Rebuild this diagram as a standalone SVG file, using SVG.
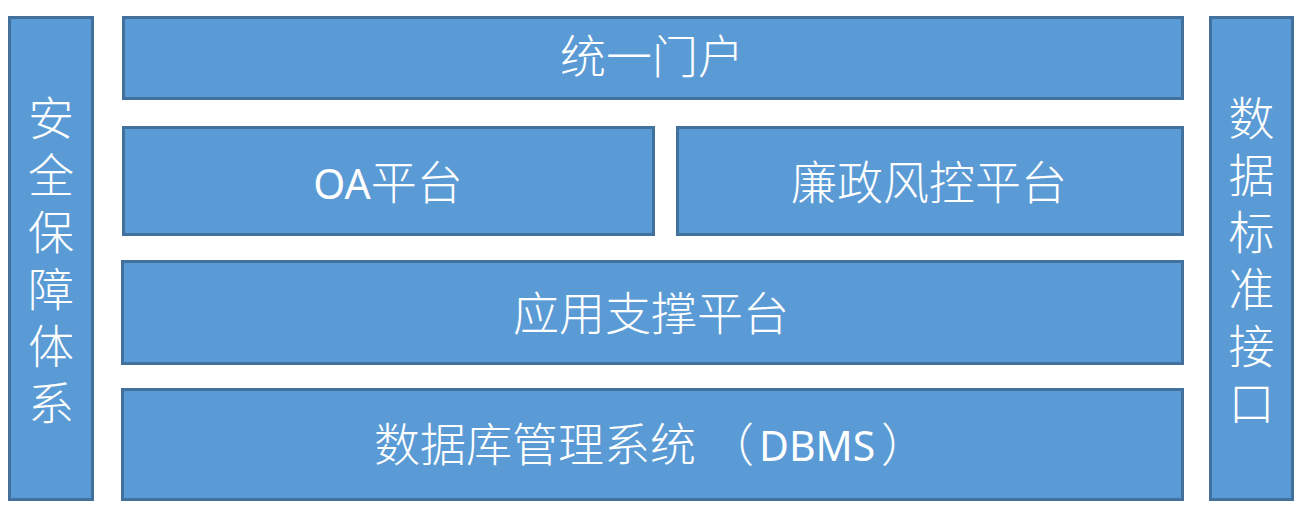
<svg xmlns="http://www.w3.org/2000/svg" width="1308" height="515" viewBox="0 0 1308 515">
<style>
.box{fill:#5B9BD5;stroke:#41719C;stroke-width:3}
.t{fill:#FFFFFF;font-family:"Noto Sans CJK SC","Noto Sans",sans-serif;font-size:46px;font-weight:300;text-anchor:middle}
.lat{font-family:"Noto Sans","Noto Sans CJK SC",sans-serif;font-size:41px;font-weight:400}
</style>
<rect width="1308" height="515" fill="#FFFFFF"/>
<g id="security">
<rect class="box" x="9.5" y="17.5" width="83" height="482"/>
<text class="t" x="51" y="135"><tspan x="51" y="135">安</tspan><tspan x="51" y="192">全</tspan><tspan x="51" y="249">保</tspan><tspan x="51" y="306">障</tspan><tspan x="51" y="363">体</tspan><tspan x="51" y="420">系</tspan></text>
</g>
<g id="portal">
<rect class="box" x="123.5" y="17.5" width="1059" height="81"/>
<text class="t" x="652" y="73">统一门户</text>
</g>
<g id="oa">
<rect class="box" x="123.5" y="127.5" width="530" height="107"/>
<text class="t" x="388" y="199"><tspan class="lat">OA</tspan>平台</text>
</g>
<g id="risk">
<rect class="box" x="677.5" y="127.5" width="505" height="107"/>
<text class="t" x="929" y="199">廉政风控平台</text>
</g>
<g id="appsupport">
<rect class="box" x="122.5" y="261.5" width="1060" height="102"/>
<text class="t" x="651" y="330">应用支撑平台</text>
</g>
<g id="dbms">
<rect class="box" x="122.5" y="389.5" width="1060" height="110"/>
<text class="t" style="text-anchor:start" x="374" y="461">数据库管理系统<tspan x="708">（</tspan><tspan class="lat" x="759">DBMS</tspan><tspan x="881">）</tspan></text>
</g>
<g id="datastd">
<rect class="box" x="1210.5" y="17.5" width="82" height="482"/>
<text class="t" x="1251.5" y="135"><tspan x="1251.5" y="135">数</tspan><tspan x="1251.5" y="192">据</tspan><tspan x="1251.5" y="249">标</tspan><tspan x="1251.5" y="306">准</tspan><tspan x="1251.5" y="363">接</tspan><tspan x="1251.5" y="420">口</tspan></text>
</g>
<g id="connectors"></g>
</svg>
